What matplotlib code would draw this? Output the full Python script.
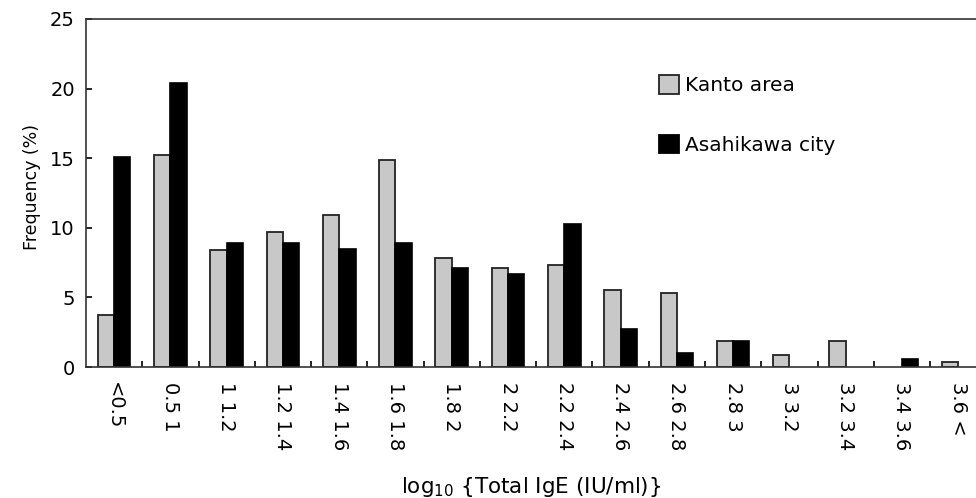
import numpy as np
import matplotlib
matplotlib.use('Agg')
from matplotlib import pyplot as plt
from matplotlib.ticker import FixedLocator

plt.rcParams['font.family'] = ['DejaVu Sans']
plt.rcParams['mathtext.fontset'] = 'dejavusans'

categories = ['<0.5', '0.5 1', '1 1.2', '1.2 1.4', '1.4 1.6', '1.6 1.8',
              '1.8 2', '2 2.2', '2.2 2.4', '2.4 2.6', '2.6 2.8', '2.8 3',
              '3 3.2', '3.2 3.4', '3.4 3.6', '3.6 <']
kanto = [3.7, 15.2, 8.4, 9.7, 10.9, 14.9, 7.85, 7.1, 7.3, 5.5, 5.3, 1.85,
         0.85, 1.85, 0.0, 0.35]
asahikawa = [15.1, 20.4, 8.9, 8.9, 8.5, 8.9, 7.1, 6.7, 10.25, 2.7, 1.0, 1.85,
             0.0, 0.0, 0.55, 0.0]

W, H = 976, 498
fig = plt.figure(figsize=(W / 100, H / 100), dpi=100)
ax = fig.add_axes([86 / W, (H - 367) / H, (W - 86) / W, (367 - 19) / H])

x = np.arange(len(categories))
bw = 0.29
# no outline on empty bins
ax.bar(x - bw / 2, kanto, width=bw, color='#c8c8c8', edgecolor='#222222',
       linewidth=[1.3 if v > 0 else 0 for v in kanto], label='Kanto area')
ax.bar(x + bw / 2, asahikawa, width=bw, color='black', edgecolor='black',
       linewidth=[1.2 if v > 0 else 0 for v in asahikawa],
       label='Asahikawa city')

ax.set_xlim(-0.5, -0.5 + (W - 86) / 56.27)
ax.set_ylim(0, 25)
ax.set_yticks([0, 5, 10, 15, 20, 25])

ax.set_xticks(x)
ax.set_xticklabels(categories, rotation=270, va='top', ha='center')
ax.xaxis.set_minor_locator(FixedLocator(x[:-1] + 0.5))
ax.tick_params(axis='x', which='major', length=0, pad=11, labelsize=14)
ax.tick_params(axis='x', which='minor', direction='in', length=4, width=1.2)
ax.tick_params(axis='y', direction='in', length=4, width=1.2, pad=8,
               labelsize=14)

for s in ['left', 'top', 'bottom']:
    ax.spines[s].set_color('#333333')
    ax.spines[s].set_linewidth(1.2)
ax.spines['right'].set_visible(False)

ax.set_ylabel('Frequency (%)', fontsize=12.5)
ax.yaxis.set_label_coords((41 - 86) / (W - 86), (367 - 187) / 348)
ax.set_xlabel(r'log$_{10}$ {Total IgE (IU/ml)}', fontsize=15.5)
ax.xaxis.set_label_coords((531 - 86) / (W - 86), -(475 - 367) / 348)

leg = ax.legend(loc='upper left', bbox_to_anchor=(659 / W, 1 - 75.5 / H),
                bbox_transform=fig.transFigure, frameon=False, fontsize=14.5,
                handlelength=1.0, handleheight=1.0, handletextpad=0.3,
                labelspacing=1.95, borderpad=0, borderaxespad=0)
for p in leg.get_patches():
    p.set_linewidth(1.3)

plt.savefig('out.png', dpi=100)
